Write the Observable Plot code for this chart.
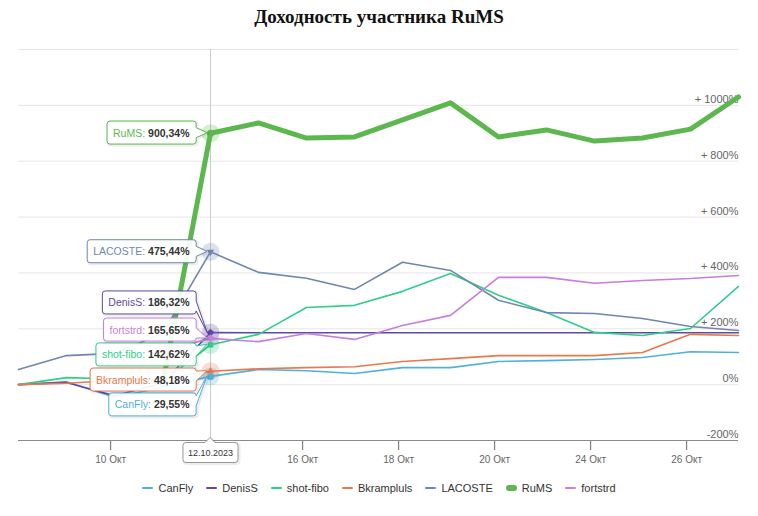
<!DOCTYPE html>
<html><head><meta charset="utf-8">
<script src="https://cdn.jsdelivr.net/npm/d3@7"></script>
<script src="https://cdn.jsdelivr.net/npm/@observablehq/plot@0.6"></script>
<style>
body{margin:0;background:#fff;font-family:"Liberation Sans",Arial,sans-serif;}
#title{height:34px;line-height:34px;text-align:center;font-family:"Liberation Serif","Times New Roman",serif;font-weight:bold;font-size:19px;color:#111;}
#chart{height:440px;}
#legend{display:flex;justify-content:center;gap:13px;margin-top:6px;font-size:11px;color:#333;line-height:16px;}
#legend .it{display:flex;align-items:center;gap:5px;}
#legend .sw{display:inline-block;width:11px;height:2px;border-radius:1px;}
</style></head><body>
<div id="title">Доходность участника RuMS</div>
<div id="chart"></div>
<div id="legend"></div>
<script>
// ---- data ----
const dates = ["06.10","09.10","10.10","11.10","12.10","13.10","16.10","17.10","18.10","19.10","20.10","23.10","24.10","25.10","26.10","27.10"];
const tickIndex = [2, 6, 8, 10, 12, 14];
const tickLabels = ["10 Окт","16 Окт","18 Окт","20 Окт","24 Окт","26 Окт"];
const yTicks = [-200, 0, 200, 400, 600, 800, 1000];
const gridValues = [0, 200, 400, 600, 800, 1000, 1200];

const names  = ["CanFly","DenisS","shot-fibo","Bkrampluls","LACOSTE","RuMS","fortstrd"];
const colors = ["#4fb0dc","#5a4ca3","#2fcf8a","#e8794b","#6f87b0","#5cb84e","#c97ddd"];
const symbols = ["circle","diamond","square","triangle","triangle-down","circle","diamond"];

const CanFly     = [0, 10, -45, -10, 29.55, 54, 50, 40, 61, 61, 83, 86, 90, 97, 118, 115];
const DenisS     = [0, 8, -40, 5, 186.32, 186, 186, 186, 186, 186, 186, 186, 186, 186, 186, 186];
const shotFibo   = [0, 25, 20, 10, 142.62, 180, 276, 284, 334, 398, 320, 258, 187, 176, 201, 352];
const Bkrampluls = [0, 5, 15, 20, 48.18, 57, 61, 64, 83, 93, 104, 104, 104, 115, 180, 176];
const LACOSTE    = [54, 104, 112, 183, 475.44, 402, 381, 341, 438, 409, 302, 258, 255, 237, 208, 194];
const RuMS       = [null, null, null, 0, 900.34, 937, 883, 887, 948, 1009, 887, 912, 872, 883, 915, 1030];
const fortstrd   = [null, null, null, 120, 165.65, 154, 183, 162, 212, 248, 384, 384, 363, 373, 380, 391];
const seriesValues = [CanFly, DenisS, shotFibo, Bkrampluls, LACOSTE, RuMS, fortstrd];
const lineWidths = [1.6, 1.6, 1.6, 1.6, 1.6, 5, 1.6];

// tooltip (crosshair on 12.10.2023)
const crossIndex = 4;
const crossLabel = "12.10.2023";
const tipText  = ["29,55%","186,32%","142,62%","48,18%","475,44%","900,34%","165,65%"];
const tipLevel = [-73, 292, 106, 16, 475.44, 900.34, 195];

// ---- build ----
const NS = "http://www.w3.org/2000/svg";
const yFmt = v => v === 0 ? "0%" : v > 0 ? "+ " + v + "%" : v + "%";
const seriesMarks = names.map((n, k) => {
  const rows = seriesValues[k].map((v, i) => ({i, v})).filter(d => d.v !== null);
  return Plot.line(rows, {x: "i", y: "v", stroke: colors[k], strokeWidth: lineWidths[k], strokeLinejoin: "round", strokeLinecap: "round"});
});
const hover = names.map((n, k) => ({name: n, color: colors[k], sym: symbols[k], v: seriesValues[k][crossIndex], lv: tipLevel[k], tip: n + ": " + tipText[k], val: tipText[k]}));
const symMap = {"circle": "circle", "diamond": "diamond2", "square": "square2", "triangle": "triangle2", "triangle-down": "triangle2"};

const chart = Plot.plot({
  width: 758, height: 440,
  marginTop: 15, marginBottom: 34, marginLeft: 18, marginRight: 20,
  style: {fontFamily: "'Liberation Sans', Arial, sans-serif", background: "#fff", overflow: "visible"},
  x: {type: "linear", domain: [0, dates.length - 1]},
  y: {domain: [-200, 1200], axis: null},
  marks: [
    Plot.ruleY(gridValues, {stroke: "#e6e6e6"}),
    Plot.ruleX([crossIndex], {stroke: "#cccccc"}),
    Plot.text(yTicks, {y: d => d, frameAnchor: "right", textAnchor: "end", dy: -6, text: yFmt, fill: "#666", fontSize: 11}),
    Plot.axisX({ticks: tickIndex.map(i => i - 0.08), tickFormat: (t, j) => tickLabels[j], tickSize: 10, tickPadding: 5, fontSize: 10, color: "#666", label: null}),
    Plot.ruleY([-200], {stroke: "#8a8a8a"}),
    ...seriesMarks,
    Plot.dot(hover, {x: () => crossIndex, y: "v", r: 9, fill: "color", fillOpacity: 0.25}),
    Plot.dot(hover, {x: () => crossIndex, y: "v", r: 3.5, fill: "color", symbol: d => symMap[d.sym], rotate: d => d.sym === "triangle-down" ? 180 : 0}),
    Plot.text(hover, {x: () => crossIndex, y: "lv", text: "tip", dx: -21, textAnchor: "end", fontSize: 10.5, fill: "#333"}),
    Plot.text([crossLabel], {x: () => crossIndex, frameAnchor: "bottom", dy: 15, text: d => d, fontSize: 9, fill: "#333"})
  ],
  color: {type: "identity"}
});
document.getElementById("chart").append(chart);

// ---- tooltip boxes drawn after layout ----
const sx = chart.scale("x"), sy = chart.scale("y");
const sr = chart.getBoundingClientRect();
const tipByText = new Map(hover.map(h => [h.tip, h]));
function topChild(el) { while (el.parentNode !== chart) el = el.parentNode; return el; }
const boxLayer = document.createElementNS(NS, "g");
let anchorEl = null;
function addPath(d, fill, stroke, sw, extra) {
  const p = document.createElementNS(NS, "path");
  p.setAttribute("d", d); p.setAttribute("fill", fill); p.setAttribute("stroke", stroke); p.setAttribute("stroke-width", sw);
  p.setAttribute("stroke-linejoin", "round");
  if (extra) p.setAttribute("transform", extra);
  boxLayer.appendChild(p);
}
Array.from(chart.querySelectorAll("text")).forEach(el => {
  const s = el.textContent;
  if (tipByText.has(s)) {
    const h = tipByText.get(s);
    const t = d3.select(el);
    t.text(null);
    t.append("tspan").attr("fill", h.color).text(h.name + ": ");
    t.append("tspan").attr("fill", "#333").attr("font-weight", "bold").text(h.val);
    const r = el.getBoundingClientRect();
    const cyT = (r.top + r.bottom) / 2 - sr.top;
    const x0 = r.left - sr.left - 6, x1 = r.right - sr.left + 6, y0 = cyT - 11.5, y1 = cyT + 11.5;
    const px = sx.apply(crossIndex) - 3, py = sy.apply(h.v);
    const yb = Math.max(y0 + 8, Math.min(y1 - 8, py));
    const d = `M${x0+3},${y0}H${x1-3}Q${x1},${y0} ${x1},${y0+3}V${yb-5}L${px},${py}L${x1},${yb+5}V${y1-3}Q${x1},${y1} ${x1-3},${y1}H${x0+3}Q${x0},${y1} ${x0},${y1-3}V${y0+3}Q${x0},${y0} ${x0+3},${y0}Z`;
    addPath(d, "none", "rgba(0,0,0,0.07)", 3, "translate(1,1)");
    addPath(d, "rgba(255,255,255,0.93)", h.color, 1);
    anchorEl = anchorEl || topChild(el);
  } else if (s === crossLabel) {
    const r = el.getBoundingClientRect();
    const x0 = r.left - sr.left - 5, x1 = r.right - sr.left + 5, y0 = r.top - sr.top - 5, y1 = r.bottom - sr.top + 5;
    const cx = sx.apply(crossIndex);
    const d = `M${x0+3},${y0}H${cx-5}L${cx},${y0-5}L${cx+5},${y0}H${x1-3}Q${x1},${y0} ${x1},${y0+3}V${y1-3}Q${x1},${y1} ${x1-3},${y1}H${x0+3}Q${x0},${y1} ${x0},${y1-3}V${y0+3}Q${x0},${y0} ${x0+3},${y0}Z`;
    addPath(d, "none", "rgba(0,0,0,0.07)", 3, "translate(1,1)");
    addPath(d, "#fff", "#999", 1);
  }
});
chart.insertBefore(boxLayer, anchorEl);

// ---- legend ----
const lg = d3.select("#legend");
names.forEach((n, k) => {
  const it = lg.append("div").attr("class", "it");
  it.append("span").attr("class", "sw").style("background", colors[k])
    .style("height", k === 5 ? "6px" : "2px").style("border-radius", k === 5 ? "3px" : "1px");
  it.append("span").text(n);
});
</script>
</body></html>
